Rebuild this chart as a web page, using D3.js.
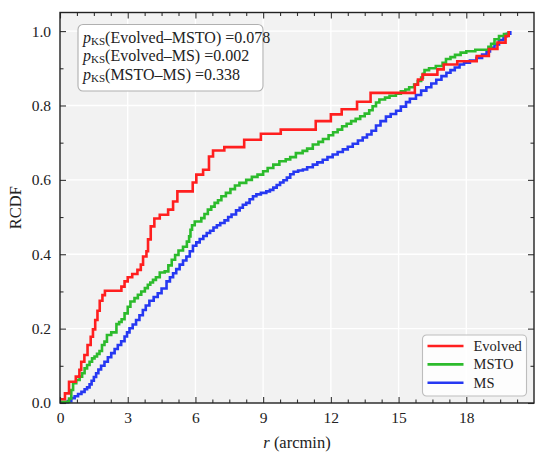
<!DOCTYPE html>
<html>
<head>
<meta charset="utf-8">
<script src="https://cdn.jsdelivr.net/npm/d3@7"></script>
<style>
  body { margin: 0; background: #ffffff; }
  text { font-family: "Liberation Serif", "Times New Roman", "DejaVu Serif", serif; fill: #222; }
</style>
</head>
<body>
<div id="chart"></div>
<script>
// radius where each step starts (arcmin) and cumulative fraction after the step
let evolvedR = [0, 0.22, 0.40, 0.70, 0.86, 0.94, 1.08, 1.22, 1.36, 1.46, 1.56, 1.66, 1.76, 1.88, 1.99,
    2.72, 2.86, 3.00, 3.20, 3.43, 3.58, 3.68, 3.83, 3.90, 4.02, 4.18, 4.42, 4.79, 5.01, 5.20,
    5.88, 6.04, 6.34, 6.60, 6.78, 7.28, 8.16, 8.90, 9.78, 11.33, 12.00, 12.48, 13.16, 13.76,
    15.72, 15.86, 16.06, 16.72, 17.00, 17.60, 18.46, 19.00, 19.38, 19.74, 19.88];
let evolvedF = [0.010, 0.026, 0.057, 0.071, 0.089, 0.111, 0.129, 0.156, 0.178, 0.198, 0.223, 0.248, 0.275, 0.290, 0.302,
    0.313, 0.327, 0.338, 0.347, 0.358, 0.372, 0.394, 0.408, 0.440, 0.475, 0.496, 0.506, 0.520, 0.542, 0.569,
    0.593, 0.614, 0.627, 0.663, 0.679, 0.688, 0.708, 0.724, 0.735, 0.758, 0.776, 0.790, 0.810, 0.834,
    0.856, 0.870, 0.883, 0.897, 0.910, 0.919, 0.933, 0.952, 0.969, 0.987, 1.000];

let mstoR = [0, 0.40, 0.50, 0.58, 0.72, 0.87, 0.98, 1.09, 1.20, 1.31, 1.42, 1.53, 1.64, 1.75, 1.86, 1.97,
    2.08, 2.27, 2.50, 2.62, 2.73, 2.86, 3.00, 3.12, 3.30, 3.45, 3.60, 3.76, 3.89, 4.00, 4.12, 4.25,
    4.42, 4.64, 4.80, 4.95, 5.10, 5.25, 5.45, 5.62, 5.72, 5.78, 5.85, 5.97, 6.26, 6.40, 6.55, 6.70,
    6.85, 7.00, 7.15, 7.35, 7.55, 7.75, 7.95, 8.25, 8.50, 8.75, 9.00, 9.20, 9.45, 9.72, 10.00, 10.20,
    10.45, 10.75, 10.95, 11.20, 11.45, 11.65, 11.90, 12.10, 12.30, 12.50, 12.70, 12.90, 13.10, 13.30,
    13.50, 13.70, 13.85, 14.00, 14.15, 14.40, 14.60, 14.88, 15.10, 15.30, 15.47, 15.69, 15.85, 16.00,
    16.08, 16.15, 16.35, 16.65, 16.95, 17.10, 17.30, 17.50, 17.75, 18.00, 18.40, 18.98, 19.10, 19.25,
    19.45, 19.67, 19.88];
let mstoF = [0.003, 0.012, 0.035, 0.053, 0.062, 0.071, 0.080, 0.093, 0.102, 0.111, 0.120, 0.125, 0.132, 0.140, 0.156, 0.165,
    0.183, 0.190, 0.212, 0.218, 0.225, 0.241, 0.259, 0.273, 0.282, 0.291, 0.300, 0.309, 0.318, 0.324, 0.331, 0.338,
    0.351, 0.354, 0.370, 0.385, 0.398, 0.410, 0.420, 0.434, 0.448, 0.466, 0.478, 0.488, 0.497, 0.508, 0.520, 0.528,
    0.538, 0.545, 0.556, 0.565, 0.575, 0.585, 0.592, 0.600, 0.608, 0.614, 0.623, 0.632, 0.641, 0.650, 0.655, 0.661,
    0.672, 0.678, 0.684, 0.695, 0.702, 0.710, 0.720, 0.728, 0.735, 0.744, 0.751, 0.758, 0.764, 0.771,
    0.778, 0.787, 0.798, 0.808, 0.816, 0.821, 0.826, 0.832, 0.838, 0.843, 0.849, 0.856, 0.866, 0.875,
    0.885, 0.895, 0.900, 0.906, 0.915, 0.925, 0.930, 0.936, 0.942, 0.946, 0.950, 0.958, 0.966, 0.978,
    0.987, 0.992, 1.000];

let msR = [0, 0.20, 0.35, 0.50, 0.65, 0.80, 0.95, 1.09, 1.20, 1.31, 1.40, 1.50, 1.60, 1.70, 1.82, 1.97,
    2.12, 2.27, 2.42, 2.56, 2.71, 2.86, 2.97, 3.08, 3.22, 3.37, 3.52, 3.67, 3.80, 3.96, 4.15, 4.33,
    4.50, 4.72, 4.87, 5.01, 5.15, 5.30, 5.45, 5.60, 5.75, 5.89, 6.04, 6.19, 6.35, 6.50, 6.65, 6.80,
    6.95, 7.10, 7.29, 7.45, 7.60, 7.80, 7.96, 8.10, 8.25, 8.40, 8.55, 8.70, 8.90, 9.14, 9.30, 9.45,
    9.60, 9.75, 9.90, 10.05, 10.20, 10.35, 10.55, 10.76, 10.95, 11.20, 11.40, 11.64, 11.85, 12.08,
    12.30, 12.53, 12.75, 12.97, 13.20, 13.41, 13.60, 13.80, 14.00, 14.20, 14.44, 14.65, 14.89, 15.10,
    15.33, 15.50, 15.77, 16.00, 16.23, 16.45, 16.67, 16.90, 17.12, 17.30, 17.49, 17.70, 17.90, 18.16,
    18.45, 18.70, 18.90, 19.05, 19.25, 19.45, 19.65, 19.80, 19.95];
let msF = [0, 0.002, 0.005, 0.013, 0.018, 0.024, 0.030, 0.037, 0.042, 0.050, 0.060, 0.070, 0.080, 0.090, 0.100, 0.111,
    0.123, 0.134, 0.145, 0.156, 0.166, 0.179, 0.190, 0.201, 0.211, 0.223, 0.236, 0.250, 0.262, 0.275, 0.285, 0.295,
    0.308, 0.327, 0.338, 0.349, 0.360, 0.372, 0.383, 0.394, 0.408, 0.423, 0.432, 0.441, 0.449, 0.457, 0.463, 0.472,
    0.478, 0.484, 0.491, 0.500, 0.507, 0.518, 0.525, 0.533, 0.538, 0.548, 0.556, 0.561, 0.565, 0.569, 0.573, 0.579,
    0.586, 0.593, 0.599, 0.606, 0.615, 0.622, 0.625, 0.628, 0.634, 0.641, 0.647, 0.654, 0.661, 0.668,
    0.675, 0.682, 0.689, 0.697, 0.706, 0.714, 0.722, 0.732, 0.746, 0.758, 0.770, 0.777, 0.786, 0.797,
    0.809, 0.818, 0.828, 0.840, 0.849, 0.859, 0.869, 0.879, 0.888, 0.895, 0.902, 0.910, 0.915, 0.921,
    0.928, 0.937, 0.945, 0.955, 0.964, 0.976, 0.986, 0.993, 1.000];

let seriesNames = ["Evolved", "MSTO", "MS"];
let seriesColors = ["#ff1f1f", "#2cbb2c", "#2638f2"];
let xTicks = [0, 3, 6, 9, 12, 15, 18];
let yTicks = [0.0, 0.2, 0.4, 0.6, 0.8, 1.0];
let ksLabels = ["(Evolved\u2013MSTO)", "(Evolved\u2013MS)", "(MSTO\u2013MS)"];
let ksValues = ["0.078", "0.002", "0.338"];

let width = 545, height = 460;
let margin = {top: 12.5, right: 11, bottom: 57, left: 60};
let plotW = width - margin.left - margin.right;
let plotH = height - margin.top - margin.bottom;
let serif = '"Liberation Serif", "Times New Roman", "DejaVu Serif", serif';

let svg = d3.select("#chart")
    .append("svg")
    .attr("width", width)
    .attr("height", height)
    .append("g")
    .attr("transform", `translate(${margin.left}, ${margin.top})`);

let x = d3.scaleLinear().domain([0, 21]).range([0, plotW]);
let y = d3.scaleLinear().domain([0, 1.05]).range([plotH, 0]);

// background + grid
svg.append("rect")
    .attr("width", plotW)
    .attr("height", plotH)
    .attr("fill", "#f2f2f2");

svg.append("g").selectAll("line").data(xTicks.slice(1))
    .enter().append("line")
    .attr("x1", d => x(d)).attr("x2", d => x(d))
    .attr("y1", 0).attr("y2", plotH)
    .attr("stroke", "#ffffff").attr("stroke-width", 1.3);

svg.append("g").selectAll("line").data(yTicks.slice(1))
    .enter().append("line")
    .attr("x1", 0).attr("x2", plotW)
    .attr("y1", d => y(d)).attr("y2", d => y(d))
    .attr("stroke", "#ffffff").attr("stroke-width", 1.3);

// curves
svg.append("clipPath").attr("id", "clip")
    .append("rect").attr("width", plotW).attr("height", plotH + 2).attr("y", -1);

let line = d3.line()
    .x(d => x(d[0]))
    .y(d => y(d[1]))
    .curve(d3.curveStepAfter);

let series = [
    d3.zip(evolvedR, evolvedF),
    d3.zip(mstoR, mstoF),
    d3.zip(msR, msF)
];

// draw MS first so Evolved sits on top
[2, 1, 0].forEach(function(i){
    svg.append("path")
        .datum(series[i])
        .attr("d", line)
        .attr("fill", "none")
        .attr("stroke", seriesColors[i])
        .attr("stroke-width", 2.6)
        .attr("clip-path", "url(#clip)");
});

// axes: ticks point inward on all four sides
let xMinor = d3.range(0, 21.01, 0.75).filter(d => d % 3 !== 0);
let yMinor = [0.1, 0.3, 0.5, 0.7, 0.9];

svg.append("g").attr("transform", `translate(0, ${plotH})`)
    .call(d3.axisBottom(x).tickValues(xTicks).tickSizeInner(-6).tickSizeOuter(0).tickPadding(9).tickFormat(d3.format("d")));
svg.append("g")
    .call(d3.axisTop(x).tickValues(xTicks).tickSizeInner(-6).tickSizeOuter(0).tickFormat(""));
svg.append("g")
    .call(d3.axisLeft(y).tickValues(yTicks).tickSizeInner(-6).tickSizeOuter(0).tickPadding(9).tickFormat(d3.format(".1f")));
svg.append("g").attr("transform", `translate(${plotW}, 0)`)
    .call(d3.axisRight(y).tickValues(yTicks).tickSizeInner(-6).tickSizeOuter(0).tickFormat(""));

svg.append("g").attr("transform", `translate(0, ${plotH})`)
    .call(d3.axisBottom(x).tickValues(xMinor).tickSizeInner(-3.5).tickSizeOuter(0).tickFormat(""));
svg.append("g")
    .call(d3.axisTop(x).tickValues(xMinor).tickSizeInner(-3.5).tickSizeOuter(0).tickFormat(""));
svg.append("g")
    .call(d3.axisLeft(y).tickValues(yMinor).tickSizeInner(-3.5).tickSizeOuter(0).tickFormat(""));
svg.append("g").attr("transform", `translate(${plotW}, 0)`)
    .call(d3.axisRight(y).tickValues(yMinor).tickSizeInner(-3.5).tickSizeOuter(0).tickFormat(""));

svg.selectAll(".domain").remove();
svg.selectAll(".tick line").attr("stroke", "#333").attr("stroke-width", 1.1);
svg.selectAll(".tick text")
    .attr("font-family", serif)
    .style("font-family", serif)
    .style("font-size", "15.5px")
    .attr("fill", "#222");

// frame
svg.append("rect")
    .attr("width", plotW)
    .attr("height", plotH)
    .attr("fill", "none")
    .attr("stroke", "#222")
    .attr("stroke-width", 1.4);

// axis labels
let xl = svg.append("text")
    .attr("transform", `translate(${plotW / 2}, ${plotH + 45})`)
    .style("text-anchor", "middle")
    .style("font-family", serif)
    .style("font-size", "16.5px");
xl.append("tspan").style("font-style", "italic").text("r");
xl.append("tspan").text(" (arcmin)");

svg.append("text")
    .attr("transform", `translate(${-39}, ${plotH / 2}) rotate(-90)`)
    .style("text-anchor", "middle")
    .style("font-family", serif)
    .style("font-size", "16.5px")
    .text("RCDF");

// KS p-value box
let ksGap = 18.8;
svg.append("rect")
    .attr("x", 18).attr("y", 12)
    .attr("width", 185).attr("height", 66.5)
    .attr("rx", 5)
    .attr("fill", "#ffffff")
    .attr("stroke", "#b0b0b0")
    .attr("stroke-width", 1.1);

ksLabels.forEach(function(lab, i){
    let t = svg.append("text")
        .attr("x", 23)
        .attr("y", 30 + i * ksGap)
        .style("font-family", serif)
        .style("font-size", "16px");
    t.append("tspan").style("font-style", "italic").text("p");
    t.append("tspan").attr("dy", 2).style("font-size", "11px").text("KS");
    t.append("tspan").attr("dy", -2).text(lab + " =" + ksValues[i]);
});

// legend
let legend = svg.append("g")
    .attr("transform", `translate(${x(0) + 362.5}, ${322.5})`);

legend.append("rect")
    .attr("width", 104).attr("height", 61)
    .attr("rx", 4)
    .attr("fill", "#ffffff").attr("fill-opacity", 0.85)
    .attr("stroke", "#bdbdbd").attr("stroke-width", 1.1);

seriesNames.forEach(function(name, i){
    legend.append("line")
        .attr("x1", 5).attr("x2", 41)
        .attr("y1", 11 + i * 18.4).attr("y2", 11 + i * 18.4)
        .attr("stroke", seriesColors[i]).attr("stroke-width", 2.6);
    legend.append("text")
        .attr("x", 51).attr("y", 16 + i * 18.4)
        .style("font-family", serif)
        .style("font-size", "14.5px")
        .text(name);
});
</script>
</body>
</html>
